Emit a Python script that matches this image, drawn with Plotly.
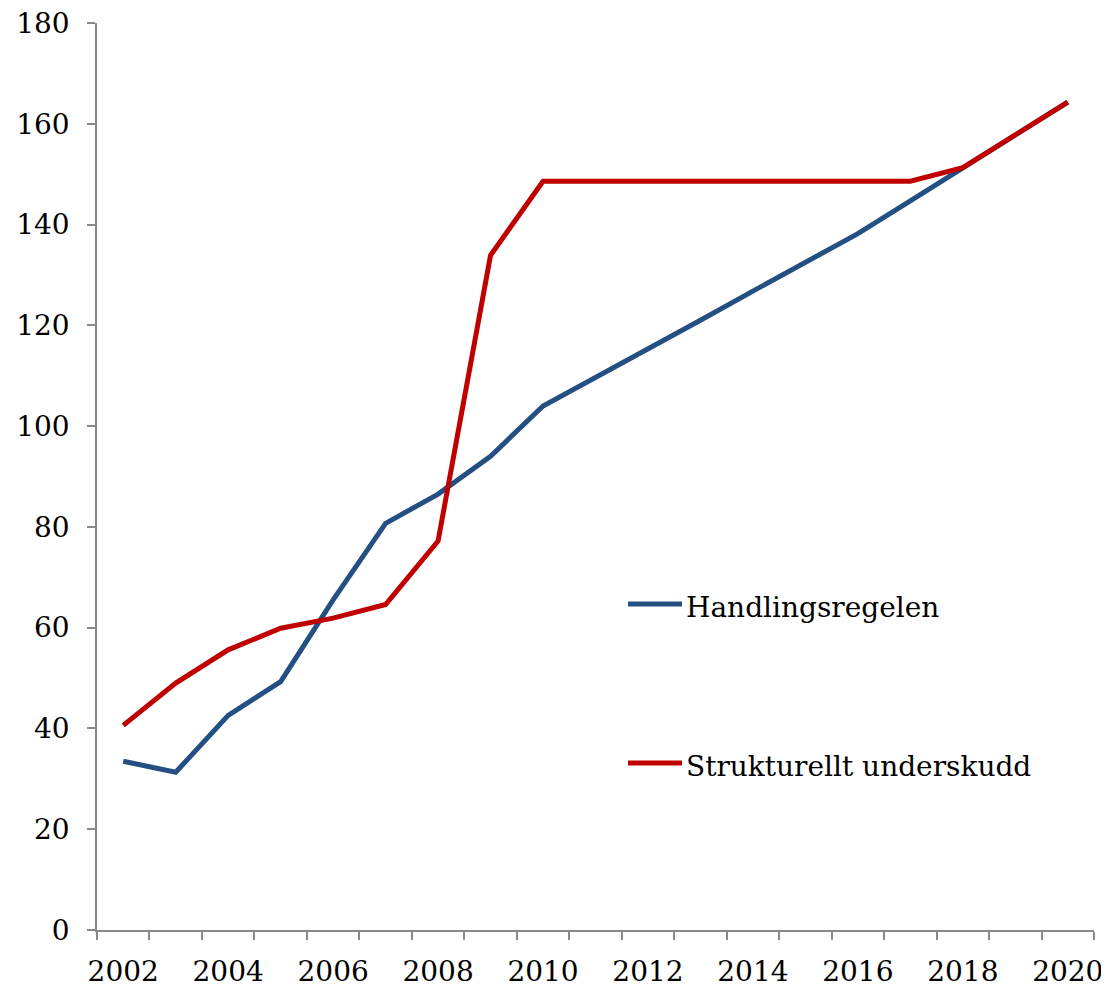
import plotly.graph_objects as go

years = [str(y) for y in range(2002, 2021)]
handlingsregelen = [33.5, 31.3, 42.6, 49.3, 65.5, 80.7, 86.5, 94.0, 104.0,
                    109.6, 115.3, 121.0, 126.8, 132.5, 138.2, 144.7, 151.2, 157.7, 164.3]
strukturelt = [40.6, 49.0, 55.6, 59.9, 61.9, 64.6, 77.2, 133.9, 148.6,
               148.6, 148.6, 148.6, 148.6, 148.6, 148.6, 148.6, 151.3, 157.8, 164.3]
tick_text = [y if int(y) % 2 == 0 else "" for y in years]
y_ticks = list(range(0, 181, 20))

series = [
    ("Handlingsregelen", handlingsregelen, "#234F82", 0.3594),
    ("Strukturellt underskudd", strukturelt, "#C00000", 0.1841),
]

FONT = "DejaVu Serif"
FS = 28

fig = go.Figure()
for name, vals, color, ly in series:
    fig.add_trace(go.Scatter(x=years, y=vals, mode="lines", name=name,
                             line=dict(color=color, width=5), showlegend=False))
    # manual legend entry
    fig.add_shape(type="line", xref="paper", yref="paper", x0=0.5326, x1=0.5868,
                  y0=ly, y1=ly, line=dict(color=color, width=5))
    fig.add_annotation(xref="paper", yref="paper", x=0.5888, y=ly - 0.0033,
                       xanchor="left", yanchor="middle", text=name, showarrow=False,
                       font=dict(family=FONT, size=FS, color="black"))

fig.update_layout(
    width=1109, height=990,
    margin=dict(l=89, r=23, t=15, b=68),
    paper_bgcolor="white", plot_bgcolor="white",
    font=dict(family=FONT, size=FS, color="black"),
    showlegend=False,
    xaxis=dict(type="category", tickvals=years, ticktext=tick_text, tickson="boundaries",
               ticks="outside", ticklen=8, tickcolor="#888888", tickwidth=1.5,
               showline=True, linecolor="#888888", linewidth=1.5, showgrid=False,
               zeroline=False, range=[-0.5, 18.5], tickangle=0, automargin=False,
               ticklabelstandoff=16, ticklabeloverflow="allow"),
    yaxis=dict(range=[0, 180], tickvals=y_ticks, ticks="outside", ticklen=8,
               tickcolor="#888888", tickwidth=1.5, showline=True, linecolor="#888888",
               linewidth=1.5, showgrid=False, zeroline=False, ticklabelstandoff=12,
               automargin=False, ticklabeloverflow="allow"),
)

fig.write_html("out.html")
